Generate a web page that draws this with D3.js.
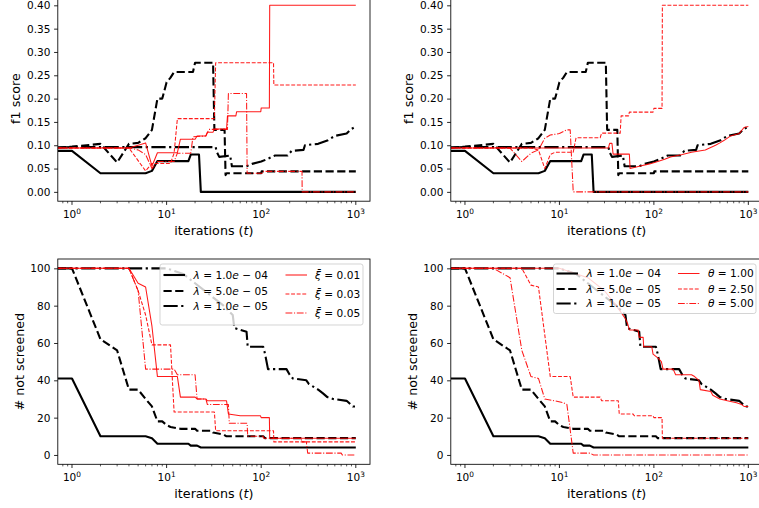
<!DOCTYPE html>
<html>
<head>
<meta charset="utf-8">
<script src="https://cdn.jsdelivr.net/npm/d3@7"></script>
<style>
  body { margin: 0; background: #fff; }
  text { font-family: "DejaVu Sans", sans-serif; fill: #000; }
</style>
</head>
<body>
<script>
// ---- data (iteration, value) ----

// f1 score, lambda runs (same in both top panels)
const lamSolidF1 = [[0,0.088],[1,0.088],[2,0.04],[6,0.04],[7,0.045],[8,0.066],[17,0.066],[18,0.08],[22,0.08],[23,0],[1000,0]];
const lamDashF1 = [[0,0.095],[1,0.097],[2,0.103],[3,0.063],[4,0.103],[5,0.105],[6,0.115],[7,0.133],[8,0.2],[9,0.2],[10,0.235],[11,0.245],[12,0.257],[19,0.257],[20,0.277],[31,0.277],[32,0.133],[41,0.133],[42,0.036],[43,0.04],[100,0.04],[101,0.044],[1000,0.044]];
const lamDotF1 = [[0,0.095],[1,0.096],[33,0.096],[34,0.085],[36,0.075],[47,0.078],[49,0.055],[70,0.055],[80,0.06],[100,0.065],[115,0.07],[140,0.078],[190,0.078],[210,0.088],[280,0.09],[290,0.1],[400,0.103],[500,0.11],[600,0.12],[800,0.125],[900,0.135],[1000,0.14]];

// f1 score, xi runs (top left)
const xiSolidF1 = [[0,0.094],[4,0.094],[6,0.105],[7,0.055],[8,0.084],[13,0.084],[14,0.113],[20,0.113],[21,0.12],[26,0.12],[27,0.128],[31,0.128],[32,0.135],[43,0.135],[44,0.163],[54,0.163],[55,0.172],[99,0.172],[100,0.18],[122,0.18],[123,0.4],[1000,0.4]];
const xiDashF1 = [[0,0.094],[4,0.094],[6,0.045],[7,0.061],[11,0.061],[12,0.083],[13,0.157],[32,0.157],[33,0.277],[135,0.277],[136,0.229],[1000,0.229]];
const xiDotF1 = [[0,0.094],[4,0.094],[5,0.09],[6,0.08],[7,0.05],[8,0.065],[12,0.065],[13,0.083],[18,0.083],[19,0.118],[26,0.12],[28,0.134],[44,0.134],[45,0.211],[70,0.211],[71,0.04],[105,0.04],[106,0.044],[270,0.044],[271,0],[1000,0]];

// f1 score, theta runs (top right)
const thSolidF1 = [[0,0.094],[33,0.094],[34,0.104],[36,0.104],[37,0.081],[55,0.081],[56,0.05],[70,0.055],[90,0.06],[110,0.065],[130,0.07],[150,0.075],[200,0.08],[250,0.085],[350,0.09],[450,0.1],[500,0.105],[550,0.11],[650,0.12],[800,0.125],[900,0.138],[1000,0.14]];
const thDashF1 = [[0,0.094],[5,0.094],[6,0.09],[7,0.05],[8,0.08],[9,0.085],[14,0.085],[15,0.116],[27,0.116],[28,0.126],[44,0.126],[45,0.163],[54,0.163],[55,0.171],[98,0.171],[100,0.179],[122,0.179],[123,0.4],[1000,0.4]];
const thDotF1 = [[0,0.094],[3,0.094],[4,0.065],[5,0.083],[6,0.09],[7,0.115],[8,0.122],[10,0.125],[12,0.133],[13,0.133],[14,0],[1000,0]];

// # not screened, lambda runs (same in both bottom panels)
const lamSolidNS = [[0,41],[1,41],[2,10],[6,10],[7,9],[8,6],[17,6],[18,5],[21,5],[23,4],[1000,4]];
const lamDashNS = [[0,100],[1,100],[2,62],[3,56],[4,35],[5,35],[6,30],[7,26],[8,18],[9,18],[10,16],[11,15],[14,14],[20,14],[21,13],[30,13],[31,12],[40,11],[43,10],[105,10],[110,9],[1000,9]];
const lamDotNS = [[0,100],[10,100],[15,97],[20,92],[30,85],[40,80],[50,75],[52,68],[70,66],[72,58],[105,58],[110,54],[118,46],[185,46],[200,43],[216,41],[300,40],[320,38],[400,35],[450,33],[500,31],[575,30],[800,29],[930,26],[1000,26]];

// # not screened, xi runs (bottom left)
const xiSolidNS = [[0,100],[4,100],[5,92],[6,90],[7,69],[8,42],[13,42],[14,31],[20,31],[21,30],[26,30],[27,29],[43,29],[45,22],[60,21],[98,21],[100,20],[122,20],[123,9],[1000,9]];
const xiDashNS = [[0,100],[4,100],[5,88],[6,75],[7,59],[11,59],[12,23],[32,23],[33,13],[135,13],[136,7],[1000,7]];
const xiDotNS = [[0,100],[4,100],[5,88],[6,46],[12,46],[13,43],[20,43],[21,30],[26,30],[27,27],[45,27],[46,17],[71,17],[72,10],[105,10],[106,9],[266,9],[268,7],[300,7],[310,1],[700,1],[720,0],[1000,0]];

// # not screened, theta runs (bottom right)
const thSolidNS = [[0,100],[10,100],[20,95],[30,88],[40,80],[50,73],[53,70],[55,67],[68,67],[70,63],[77,63],[78,58],[95,58],[98,54],[110,52],[120,50],[125,46],[160,46],[170,43],[250,43],[270,42],[300,40],[310,35],[400,34],[420,32],[500,30],[600,29],[750,28],[850,27],[900,26],[1000,26]];
const thDashNS = [[0,100],[4,100],[5,91],[6,90],[8,42],[13,42],[14,31],[27,31],[28,29],[42,29],[43,22],[60,22],[62,21],[98,21],[100,20],[122,20],[123,9],[1000,9]];
const thDotNS = [[0,100],[2,100],[3,95],[4,56],[5,42],[6,41],[7,30],[9,29],[11,28],[12,27],[14,1],[21,1],[23,0],[1000,0]];

// legend labels and ticks
const lamValues = ["1.0e-04", "5.0e-05", "1.0e-05"];
const xiValues = ["0.01", "0.03", "0.05"];
const thetaValues = ["1.00", "2.50", "5.00"];
const xTickExps = [0, 1, 2, 3];
const f1Ticks = [0, 0.05, 0.10, 0.15, 0.20, 0.25, 0.30, 0.35, 0.40];
const nsTicks = [0, 20, 40, 60, 80, 100];


// ---- styles ----
const thick = 2.1, thin = 1.06;
const styles = {
  solidK:  {color: "#000", width: thick, dash: null, op: 1},
  dashK:   {color: "#000", width: thick, dash: "8.2,3.5", op: 1},
  dotK:    {color: "#000", width: thick, dash: "14.2,3.5,2.2,3.5", op: 1},
  solidR:  {color: "#ff0000", width: thin, dash: null, op: 0.9},
  dashR:   {color: "#ff0000", width: thin, dash: "3.9,1.7", op: 0.9},
  dotR:    {color: "#ff0000", width: thin, dash: "6.8,1.7,1.1,1.7", op: 0.9}
};

const W = 759, H = 508;
const svg = d3.select("body").append("svg").attr("width", W).attr("height", H);

const xDomain = [Math.pow(10, -0.15), Math.pow(10, 3.15)];
let clipCount = 0;

function panel(box, yDomain, yTicks, yFormat, ylabel, ylabelX, series){
  const g = svg.append("g");
  const x = d3.scaleLog().domain(xDomain).range([box.left, box.right]);
  const y = d3.scaleLinear().domain(yDomain).range([box.bottom, box.top]);

  const clipId = "clip" + (clipCount++);
  g.append("clipPath").attr("id", clipId)
    .append("rect")
      .attr("x", box.left).attr("y", box.top)
      .attr("width", box.right - box.left).attr("height", box.bottom - box.top);

  // t = 0 sits off the log axis, so it is clipped to the left edge
  const line = d3.line()
    .x(d => x(Math.max(d[0], xDomain[0])))
    .y(d => y(d[1]));

  const lines = g.append("g").attr("clip-path", `url(#${clipId})`);
  series.forEach(s => {
    const st = styles[s.style];
    lines.append("path")
      .attr("d", line(s.data))
      .attr("fill", "none")
      .attr("stroke", st.color)
      .attr("stroke-width", st.width)
      .attr("stroke-opacity", st.op)
      .attr("stroke-dasharray", st.dash)
      .attr("stroke-linejoin", "round");
  });

  // y axis
  const yAxis = d3.axisLeft(y).tickValues(yTicks).tickFormat(yFormat)
    .tickSize(3.7).tickPadding(3.7);
  g.append("g").attr("transform", `translate(${box.left},0)`).call(yAxis)
    .call(a => a.select(".domain").remove())
    .call(a => a.selectAll("line").attr("stroke-width", 0.85))
    .call(a => a.selectAll("text").attr("font-size", 10.5).attr("font-family", "DejaVu Sans"));

  // x axis: minor ticks
  const minor = [];
  for(let d = -1; d <= 3; d++){
    for(let k = 2; k <= 9; k++){
      const v = k * Math.pow(10, d);
      if(v >= xDomain[0] && v <= xDomain[1]) minor.push(v);
    }
  }
  g.append("g").selectAll("line").data(minor).join("line")
    .attr("x1", d => x(d)).attr("x2", d => x(d))
    .attr("y1", box.bottom).attr("y2", box.bottom + 2.1)
    .attr("stroke", "#000").attr("stroke-width", 0.65);

  const major = xTickExps.map(e => Math.pow(10, e));
  g.append("g").selectAll("line").data(major).join("line")
    .attr("x1", d => x(d)).attr("x2", d => x(d))
    .attr("y1", box.bottom).attr("y2", box.bottom + 3.7)
    .attr("stroke", "#000").attr("stroke-width", 0.85);

  const lab = g.append("g").selectAll("text").data(xTickExps).join("text")
    .attr("x", e => x(Math.pow(10, e)))
    .attr("y", box.bottom + 16.7)
    .attr("text-anchor", "middle")
    .attr("font-size", 10.5);
  lab.append("tspan").text("10");
  lab.append("tspan").attr("dy", -4).attr("font-size", 7.4).text(e => e);

  // spines
  g.append("rect")
    .attr("x", box.left).attr("y", box.top)
    .attr("width", box.right - box.left).attr("height", box.bottom - box.top)
    .attr("fill", "none").attr("stroke", "#000").attr("stroke-width", 0.85);

  // axis labels
  const xl = g.append("text")
    .attr("x", (box.left + box.right) / 2)
    .attr("y", box.bottom + 33.3)
    .attr("text-anchor", "middle")
    .attr("font-size", 12.7);
  xl.append("tspan").text("iterations (");
  xl.append("tspan").attr("font-style", "italic").text("t");
  xl.append("tspan").text(")");

  g.append("text")
    .attr("transform", `translate(${ylabelX},${(box.top + box.bottom) / 2}) rotate(-90)`)
    .attr("dy", "0.35em")
    .attr("text-anchor", "middle")
    .attr("font-size", 12.7)
    .text(ylabel);

  return g;
}

// parts: list of [text, italic]
function richText(sel, parts){
  parts.forEach(p => {
    const t = sel.append("tspan").text(p[0]);
    if(p[1]) t.attr("font-style", "italic");
  });
}

function lamParts(v){
  const [m, e] = v.split("e-");
  return [["λ", true], [" = " + m, false], ["e", true], [" \u2212 " + e, false]];
}

function legend(box, columns){
  const g = svg.append("g");
  g.append("rect")
    .attr("x", box.x).attr("y", box.y).attr("width", box.w).attr("height", box.h)
    .attr("rx", 2.2).attr("ry", 2.2)
    .attr("fill", "#fff").attr("fill-opacity", 0.8)
    .attr("stroke", "#cccccc").attr("stroke-width", 0.85);

  columns.forEach(col => {
    col.entries.forEach((en, i) => {
      const st = styles[en.style];
      const yy = col.rows[i];
      g.append("line")
        .attr("x1", col.hx).attr("x2", col.hx + 21.5)
        .attr("y1", yy).attr("y2", yy)
        .attr("stroke", st.color).attr("stroke-width", st.width)
        .attr("stroke-opacity", st.op)
        .attr("stroke-dasharray", st.dash);
      const t = g.append("text")
        .attr("x", col.tx).attr("y", yy).attr("dy", "0.35em")
        .attr("font-size", 10.6);
      richText(t, en.parts);
    });
  });
}

const f1Dom = [-0.02, 0.42], nsDom = [-5, 105];
const f1Fmt = d3.format(".2f"), nsFmt = d3.format("d");

const leftCol = {left: 57.8, right: 370};
const rightCol = {left: 450.8, right: 762.5};
const topRow = {top: -4, bottom: 201.2};
const botRow = {top: 259, bottom: 464.3};

const lamF1 = [
  {data: lamSolidF1, style: "solidK"},
  {data: lamDashF1, style: "dashK"},
  {data: lamDotF1, style: "dotK"}
];
const lamNS = [
  {data: lamSolidNS, style: "solidK"},
  {data: lamDashNS, style: "dashK"},
  {data: lamDotNS, style: "dotK"}
];

panel({...leftCol, ...topRow}, f1Dom, f1Ticks, f1Fmt, "f1 score", 16, lamF1.concat([
  {data: xiSolidF1, style: "solidR"},
  {data: xiDashF1, style: "dashR"},
  {data: xiDotF1, style: "dotR"}
]));

panel({...rightCol, ...topRow}, f1Dom, f1Ticks, f1Fmt, "f1 score", 408.5, lamF1.concat([
  {data: thSolidF1, style: "solidR"},
  {data: thDashF1, style: "dashR"},
  {data: thDotF1, style: "dotR"}
]));

panel({...leftCol, ...botRow}, nsDom, nsTicks, nsFmt, "# not screened", 20, lamNS.concat([
  {data: xiSolidNS, style: "solidR"},
  {data: xiDashNS, style: "dashR"},
  {data: xiDotNS, style: "dotR"}
]));

panel({...rightCol, ...botRow}, nsDom, nsTicks, nsFmt, "# not screened", 412.5, lamNS.concat([
  {data: thSolidNS, style: "solidR"},
  {data: thDashNS, style: "dashR"},
  {data: thDotNS, style: "dotR"}
]));

const kStyles = ["solidK", "dashK", "dotK"];
const rStyles = ["solidR", "dashR", "dotR"];

legend({x: 160, y: 264, w: 203, h: 61}, [
  {hx: 163.5, tx: 193.5, rows: [275, 291, 306],
   entries: lamValues.map((v, i) => ({style: kStyles[i], parts: lamParts(v)}))},
  {hx: 285.5, tx: 315, rows: [275, 294, 313],
   entries: xiValues.map((v, i) => ({style: rStyles[i], parts: [["ξ\u0304", true], [" = " + v, false]]}))}
]);

legend({x: 553.5, y: 264, w: 202.5, h: 49.5}, [
  {hx: 556.5, tx: 586.5, rows: [273.5, 289, 303.5],
   entries: lamValues.map((v, i) => ({style: kStyles[i], parts: lamParts(v)}))},
  {hx: 678, tx: 708, rows: [273.5, 289, 303.5],
   entries: thetaValues.map((v, i) => ({style: rStyles[i], parts: [["θ", true], [" = " + v, false]]}))}
]);
</script>
</body>
</html>
